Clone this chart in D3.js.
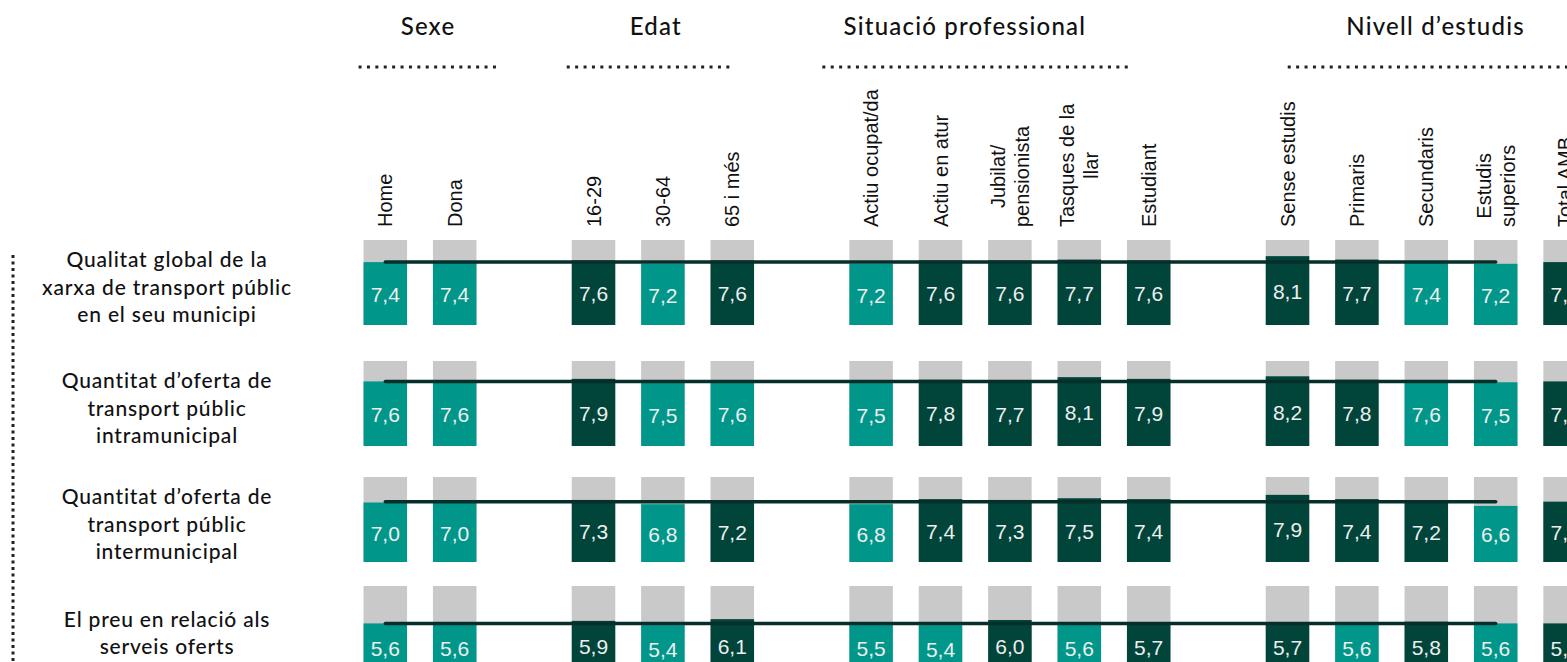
<!DOCTYPE html>
<html>
<head>
<meta charset="utf-8">
<script src="https://cdn.jsdelivr.net/npm/d3@7"></script>
<style>
  html, body { margin: 0; padding: 0; background: #ffffff; overflow: hidden; }
  svg { display: block; }
</style>
</head>
<body>
<svg id="chart" width="1567" height="662"></svg>
<script>
// ---------------- DATA ----------------
const groupNames = ["Sexe", "Edat", "Situació professional", "Nivell d’estudis", ""];
const groupCategories = [
  ["Home", "Dona"],
  ["16-29", "30-64", "65 i més"],
  ["Actiu ocupat/da", "Actiu en atur", "Jubilat/\npensionista", "Tasques de la\nllar", "Estudiant"],
  ["Sense estudis", "Primaris", "Secundaris", "Estudis\nsuperiors"],
  ["Total AMB"]
];
const categories = groupCategories.flat();

const rowLabels = [
  ["Qualitat global de la", "xarxa de transport públic", "en el seu municipi"],
  ["Quantitat d’oferta de", "transport públic", "intramunicipal"],
  ["Quantitat d’oferta de", "transport públic", "intermunicipal"],
  ["El preu en relació als", "serveis oferts"]
];

const rowQualitat     = [7.4, 7.4, 7.6, 7.2, 7.6, 7.2, 7.6, 7.6, 7.7, 7.6, 8.1, 7.7, 7.4, 7.2, 7.4];
const rowIntramunic   = [7.6, 7.6, 7.9, 7.5, 7.6, 7.5, 7.8, 7.7, 8.1, 7.9, 8.2, 7.8, 7.6, 7.5, 7.6];
const rowIntermunic   = [7.0, 7.0, 7.3, 6.8, 7.2, 6.8, 7.4, 7.3, 7.5, 7.4, 7.9, 7.4, 7.2, 6.6, 7.1];
const rowPreu         = [5.6, 5.6, 5.9, 5.4, 6.1, 5.5, 5.4, 6.0, 5.6, 5.7, 5.7, 5.6, 5.8, 5.6, 5.6];
const rowValues = [rowQualitat, rowIntramunic, rowIntermunic, rowPreu];
const scaleMax = 10;

// ---------------- LAYOUT ----------------
const W = 1567, H = 662;
const C = {
  teal: "#00978a",
  dark: "#00443a",
  grey: "#c9c9c9",
  line: "#062f2a",
  text: "#111111"
};
const svg = d3.select("#chart");
svg.append("rect").attr("width", W).attr("height", H).attr("fill", "#fff");

// slots: categories with one empty slot between groups (none before Total)
const slots = [];
groupCategories.forEach((cats, gi) => {
  cats.forEach(c => slots.push(c));
  if (gi < groupCategories.length - 2) slots.push("__gap" + gi);
});
const x = d3.scaleBand().domain(slots).range([350.6, 1599.8]).paddingInner(0.373).paddingOuter(0.1865);
const bw = x.bandwidth();
const cx = c => x(c) + bw / 2;

// rows (row tops as in the source layout)
const rowTop = d3.scaleLinear().domain([0, 1, 2, 3]).range([240, 361, 477, 586]);
const barH = 85;

const fmt = d3.formatLocale({ decimal: ",", thousands: ".", grouping: [3], currency: ["", "€"] }).format(".1f");

const geoFont = "Lato, 'Noto Sans', sans-serif";

// ---------------- GROUP HEADERS ----------------
const headerOffset = [8, -7, -45, 44];
const dotSpan = [[-5, 21], [-5, -21], [-27, -38], [22, 120]];
const headers = svg.append("g");
groupNames.forEach((name, gi) => {
  if (!name) return;
  const cats = groupCategories[gi];
  const mid = (cx(cats[0]) + cx(cats[cats.length - 1])) / 2;
  headers.append("text")
    .attr("x", mid + headerOffset[gi]).attr("y", 35)
    .attr("text-anchor", "middle")
    .style("font-family", geoFont)
    .style("font-size", "24px").style("font-weight", 500)
    .style("letter-spacing", "1.2px")
    .attr("fill", C.text)
    .text(name);
  const x0 = x(cats[0]) + dotSpan[gi][0];
  const x1 = x(cats[cats.length - 1]) + bw + dotSpan[gi][1];
  headers.append("line")
    .attr("x1", x0).attr("x2", x1).attr("y1", 67).attr("y2", 67)
    .attr("stroke", "#222").attr("stroke-width", 3)
    .attr("stroke-dasharray", "3,5.4");
});

// ---------------- CATEGORY LABELS ----------------
const labelBottom = 227, lineH = 24;
const catG = svg.append("g");
categories.forEach(c => {
  const lines = c.split("\n");
  const g = catG.append("g").attr("transform", `translate(${cx(c)},${labelBottom}) rotate(-90)`);
  const texts = lines.map((l, i) => g.append("text")
    .attr("y", (i - (lines.length - 1) / 2) * lineH)
    .attr("dominant-baseline", "central")
    .attr("text-anchor", "middle")
    .style("font-family", "'Liberation Sans', Arial, sans-serif")
    .style("font-size", "20px")
    .attr("fill", C.text)
    .text(l));
  const maxW = d3.max(texts, t => t.node().getComputedTextLength());
  texts.forEach(t => t.attr("x", maxW / 2));
});

// ---------------- ROWS ----------------
const rowsG = svg.append("g");
rowValues.forEach((vals, ri) => {
  const top = rowTop(ri);
  const y = d3.scaleLinear().domain([0, scaleMax]).range([top + barH, top]);
  const total = vals[vals.length - 1];
  const g = rowsG.append("g");
  const data = categories.map((c, i) => ({ c, v: vals[i], isTotal: i === categories.length - 1 }));

  g.selectAll("rect.bg").data(data).join("rect").attr("class", "bg")
    .attr("x", d => x(d.c)).attr("width", bw)
    .attr("y", y(scaleMax)).attr("height", y(0) - y(scaleMax))
    .attr("fill", C.grey);

  g.selectAll("rect.val").data(data).join("rect").attr("class", "val")
    .attr("x", d => x(d.c)).attr("width", bw)
    .attr("y", d => y(d.v)).attr("height", d => y(0) - y(d.v))
    .attr("fill", d => (d.isTotal || d.v > total) ? C.dark : C.teal);

  // total reference line
  g.append("line")
    .attr("x1", cx(categories[0])).attr("x2", cx(categories[categories.length - 2]))
    .attr("y1", y(total)).attr("y2", y(total))
    .attr("stroke", C.line).attr("stroke-width", 3.5).attr("stroke-linecap", "round");

  g.selectAll("text.v").data(data).join("text").attr("class", "v")
    .attr("x", d => cx(d.c)).attr("y", d => (y(d.v) + y(0)) / 2 + 1)
    .attr("text-anchor", "middle").attr("dominant-baseline", "central")
    .style("font-family", "'Liberation Sans', Arial, sans-serif")
    .style("font-size", "21px")
    .attr("fill", "#eeeeee")
    .text(d => fmt(d.v));

  // row label
  const lines = rowLabels[ri];
  const lh = 27.5;
  const mid = top + 46;
  lines.forEach((l, i) => {
    g.append("text")
      .attr("x", 167).attr("y", mid + (i - (lines.length - 1) / 2) * lh)
      .attr("text-anchor", "middle").attr("dominant-baseline", "central")
      .style("font-family", geoFont)
      .style("font-size", "21px").style("font-weight", 500)
      .style("letter-spacing", "0.8px")
      .attr("fill", C.text)
      .text(l);
  });
});

// left vertical dotted line
svg.append("line")
  .attr("x1", 13).attr("x2", 13).attr("y1", 255).attr("y2", H + 5)
  .attr("stroke", "#222").attr("stroke-width", 3)
  .attr("stroke-dasharray", "3,3.5");
</script>
</body>
</html>
